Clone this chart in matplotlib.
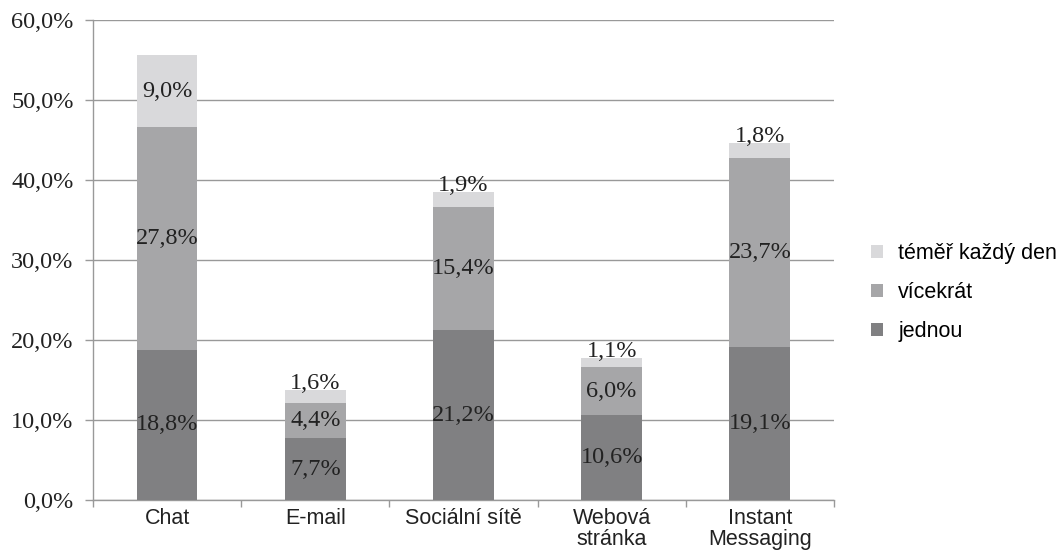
import matplotlib
matplotlib.use("Agg")
import matplotlib.pyplot as plt
import numpy as np

categories = ["Chat", "E-mail", "Sociální sítě", "Webová\nstránka", "Instant\nMessaging"]
jednou = [18.8, 7.7, 21.2, 10.6, 19.1]
vicekrat = [27.8, 4.4, 15.4, 6.0, 23.7]
temer = [9.0, 1.6, 1.9, 1.1, 1.8]
series_names = ["jednou", "vícekrát", "téměř každý den"]
colors = ["#808082", "#a6a6a8", "#d9d9db"]
yticks = [0, 10, 20, 30, 40, 50, 60]

fig = plt.figure(figsize=(10.57, 5.53), dpi=100)
ax = fig.add_axes([0.088, 0.0958, 0.701, 0.868])

x = np.arange(len(categories))
series = [jednou, vicekrat, temer]
bottom = np.zeros(len(categories))
handles = []
for vals, name, col in zip(series, series_names, colors):
    vals = np.array(vals)
    b = ax.bar(x, vals, width=0.41, bottom=bottom, color=col, label=name, zorder=3)
    handles.append(b)
    for xi, v, bt in zip(x, vals, bottom):
        txt = f"{v:.1f}%".replace(".", ",")
        if name == "téměř každý den" and v < 3:
            ax.text(xi, bt + v - 0.5, txt, ha="center", va="bottom",
                    family="Liberation Serif", fontsize=17.5, color="#222222", zorder=4)
        else:
            ax.text(xi, bt + v / 2, txt, ha="center", va="center",
                    family="Liberation Serif", fontsize=17.5, color="#222222", zorder=4)
    bottom = bottom + vals

ax.set_ylim(0, 60)
ax.set_xlim(-0.5, len(categories) - 0.5)
ax.set_yticks(yticks)
ax.set_yticklabels([f"{t:.1f}%".replace(".", ",") for t in yticks],
                   family="Liberation Serif", fontsize=17.5, color="#222222")
ax.yaxis.grid(True, color="#999999", linewidth=1.0, zorder=0)
ax.set_axisbelow(True)

ax.set_xticks(x)
ax.set_xticklabels(categories, family="Liberation Sans", fontsize=15.5, color="#222222",
                   linespacing=0.95)
ax.tick_params(axis="x", which="major", length=0, pad=6)
ax.set_xticks(np.arange(-0.5, len(categories)), minor=True)
ax.tick_params(axis="x", which="minor", length=5, color="#999999", width=1)
ax.tick_params(axis="y", length=6, color="#999999", width=1, pad=8)

for s in ["top", "right"]:
    ax.spines[s].set_visible(False)
for s in ["left", "bottom"]:
    ax.spines[s].set_color("#999999")
    ax.spines[s].set_linewidth(1)

leg = fig.legend(handles[::-1], series_names[::-1], loc="upper left",
                 bbox_to_anchor=(0.806, 0.596), frameon=False,
                 prop={"family": "Liberation Sans", "size": 15.5},
                 handlelength=0.55, handleheight=0.55, handletextpad=0.7,
                 labelspacing=0.85)

fig.savefig("out.png", dpi=100)
